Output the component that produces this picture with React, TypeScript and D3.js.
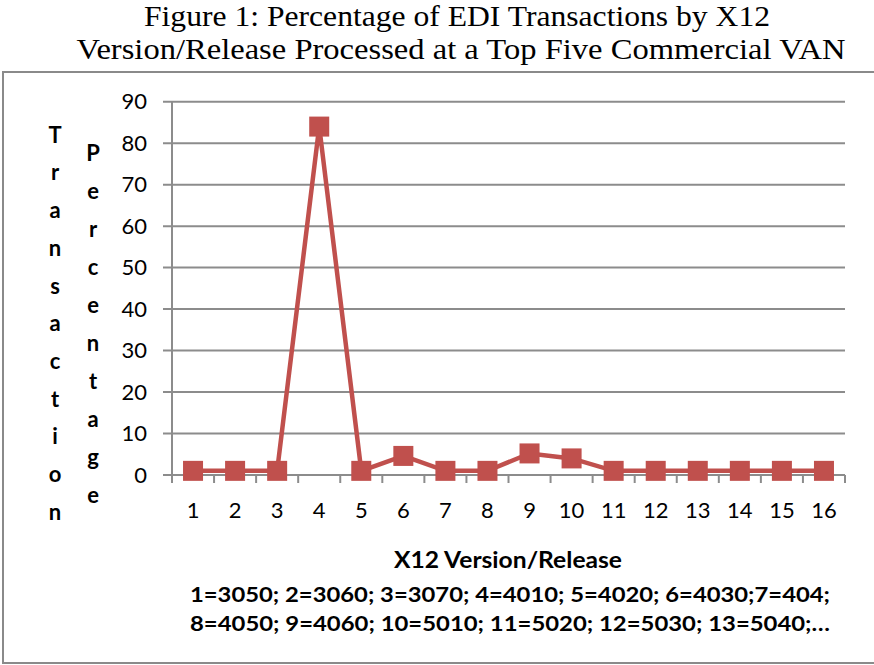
import React from "react";
import * as d3 from "d3";

const categories = ["1","2","3","4","5","6","7","8","9","10","11","12","13","14","15","16"];
const values = [1, 1, 1, 84, 1, 4.6, 1, 1, 5.2, 4, 1, 1, 1, 1, 1, 1];
const yTicks = [0, 10, 20, 30, 40, 50, 60, 70, 80, 90];
const titleLines = [
  "Figure 1: Percentage of EDI Transactions by X12",
  "Version/Release Processed at a Top Five Commercial VAN",
];
const yTitle1 = "Transaction";
const yTitle2 = "Percentage";
const xTitle = "X12 Version/Release";
const xNotes = [
  "1=3050; 2=3060; 3=3070; 4=4010; 5=4020; 6=4030;7=404;",
  "8=4050; 9=4060; 10=5010; 11=5020; 12=5030; 13=5040;…",
];

export default function App() {
  const W = 874, H = 665;
  const left = 172, right = 845, top = 101.7, bottom = 475;
  const x = d3.scaleBand<string>().domain(categories).range([left, right]);
  const y = d3.scaleLinear().domain([0, 90]).range([bottom, top]);
  const cx = (c: string) => (x(c) as number) + x.bandwidth() / 2;
  const line = d3.line<number>().x((_, i) => cx(categories[i])).y((v) => y(v));
  const red = "#C0504D";
  const grid = "#8C8C8C";
  const sans = "Lato, 'Liberation Sans', sans-serif";
  const boundaries = d3.range(categories.length + 1).map((i) => left + i * x.bandwidth());
  const titleLens = [626, 769];
  const titleX = [457, 461];
  const titleY = [26, 59];

  return (
    <svg width={W} height={H} style={{ position: "absolute", left: 0, top: 0, background: "#fff" }}>
      <rect x={0} y={0} width={W} height={H} fill="#fff" />
      {/* frame */}
      <path d={`M${W + 5},72 H3 V663 H${W + 5}`} fill="none" stroke="#8A8A8A" strokeWidth={2} />
      {/* title */}
      {titleLines.map((t, i) => (
        <text key={i} x={titleX[i]} y={titleY[i]} textAnchor="middle" fontFamily="'Liberation Serif', 'Times New Roman', serif" fontSize={30} fill="#000" textLength={titleLens[i]} lengthAdjust="spacingAndGlyphs">
          {t}
        </text>
      ))}
      {/* gridlines */}
      {yTicks.map((t) => (
        <line key={t} x1={163} x2={right} y1={y(t)} y2={y(t)} stroke={grid} strokeWidth={2} />
      ))}
      {/* y axis */}
      <line x1={left} x2={left} y1={top} y2={bottom + 8} stroke={grid} strokeWidth={2} />
      {boundaries.map((b, i) => (
        <line key={i} x1={b} x2={b} y1={bottom} y2={bottom + 8} stroke={grid} strokeWidth={2} />
      ))}
      {/* y tick labels */}
      {yTicks.map((t) => (
        <text key={t} x={147} y={y(t)} dy="0.35em" textAnchor="end" fontFamily={sans} fontSize={22} fill="#000">
          {t}
        </text>
      ))}
      {/* x tick labels */}
      {categories.map((c) => (
        <text key={c} x={cx(c)} y={518} textAnchor="middle" fontFamily={sans} fontSize={22} fill="#000">
          {c}
        </text>
      ))}
      {/* y titles stacked */}
      {yTitle1.split("").map((ch, i) => (
        <text key={"a" + i} x={55} y={135 + i * 37.7} dy="0.35em" textAnchor="middle" fontFamily={sans} fontWeight="bold" fontSize={22} fill="#000">
          {ch}
        </text>
      ))}
      {yTitle2.split("").map((ch, i) => (
        <text key={"b" + i} x={93} y={153 + i * 38} dy="0.35em" textAnchor="middle" fontFamily={sans} fontWeight="bold" fontSize={22} fill="#000">
          {ch}
        </text>
      ))}
      {/* x title */}
      <text x={508} y={568} textAnchor="middle" fontFamily={sans} fontWeight="bold" fontSize={22} fill="#000" textLength={228} lengthAdjust="spacingAndGlyphs">
        {xTitle}
      </text>
      {xNotes.map((t, i) => (
        <text key={i} x={510} y={602 + i * 29} textAnchor="middle" fontFamily={sans} fontWeight="bold" fontSize={21} fill="#000" textLength={640} lengthAdjust="spacingAndGlyphs">
          {t}
        </text>
      ))}
      {/* series */}
      <path d={line(values) as string} fill="none" stroke={red} strokeWidth={4.5} strokeLinejoin="miter" />
      {values.map((v, i) => (
        <rect key={i} x={cx(categories[i]) - 10} y={y(v) - 10} width={20} height={20} fill={red} />
      ))}
    </svg>
  );
}
